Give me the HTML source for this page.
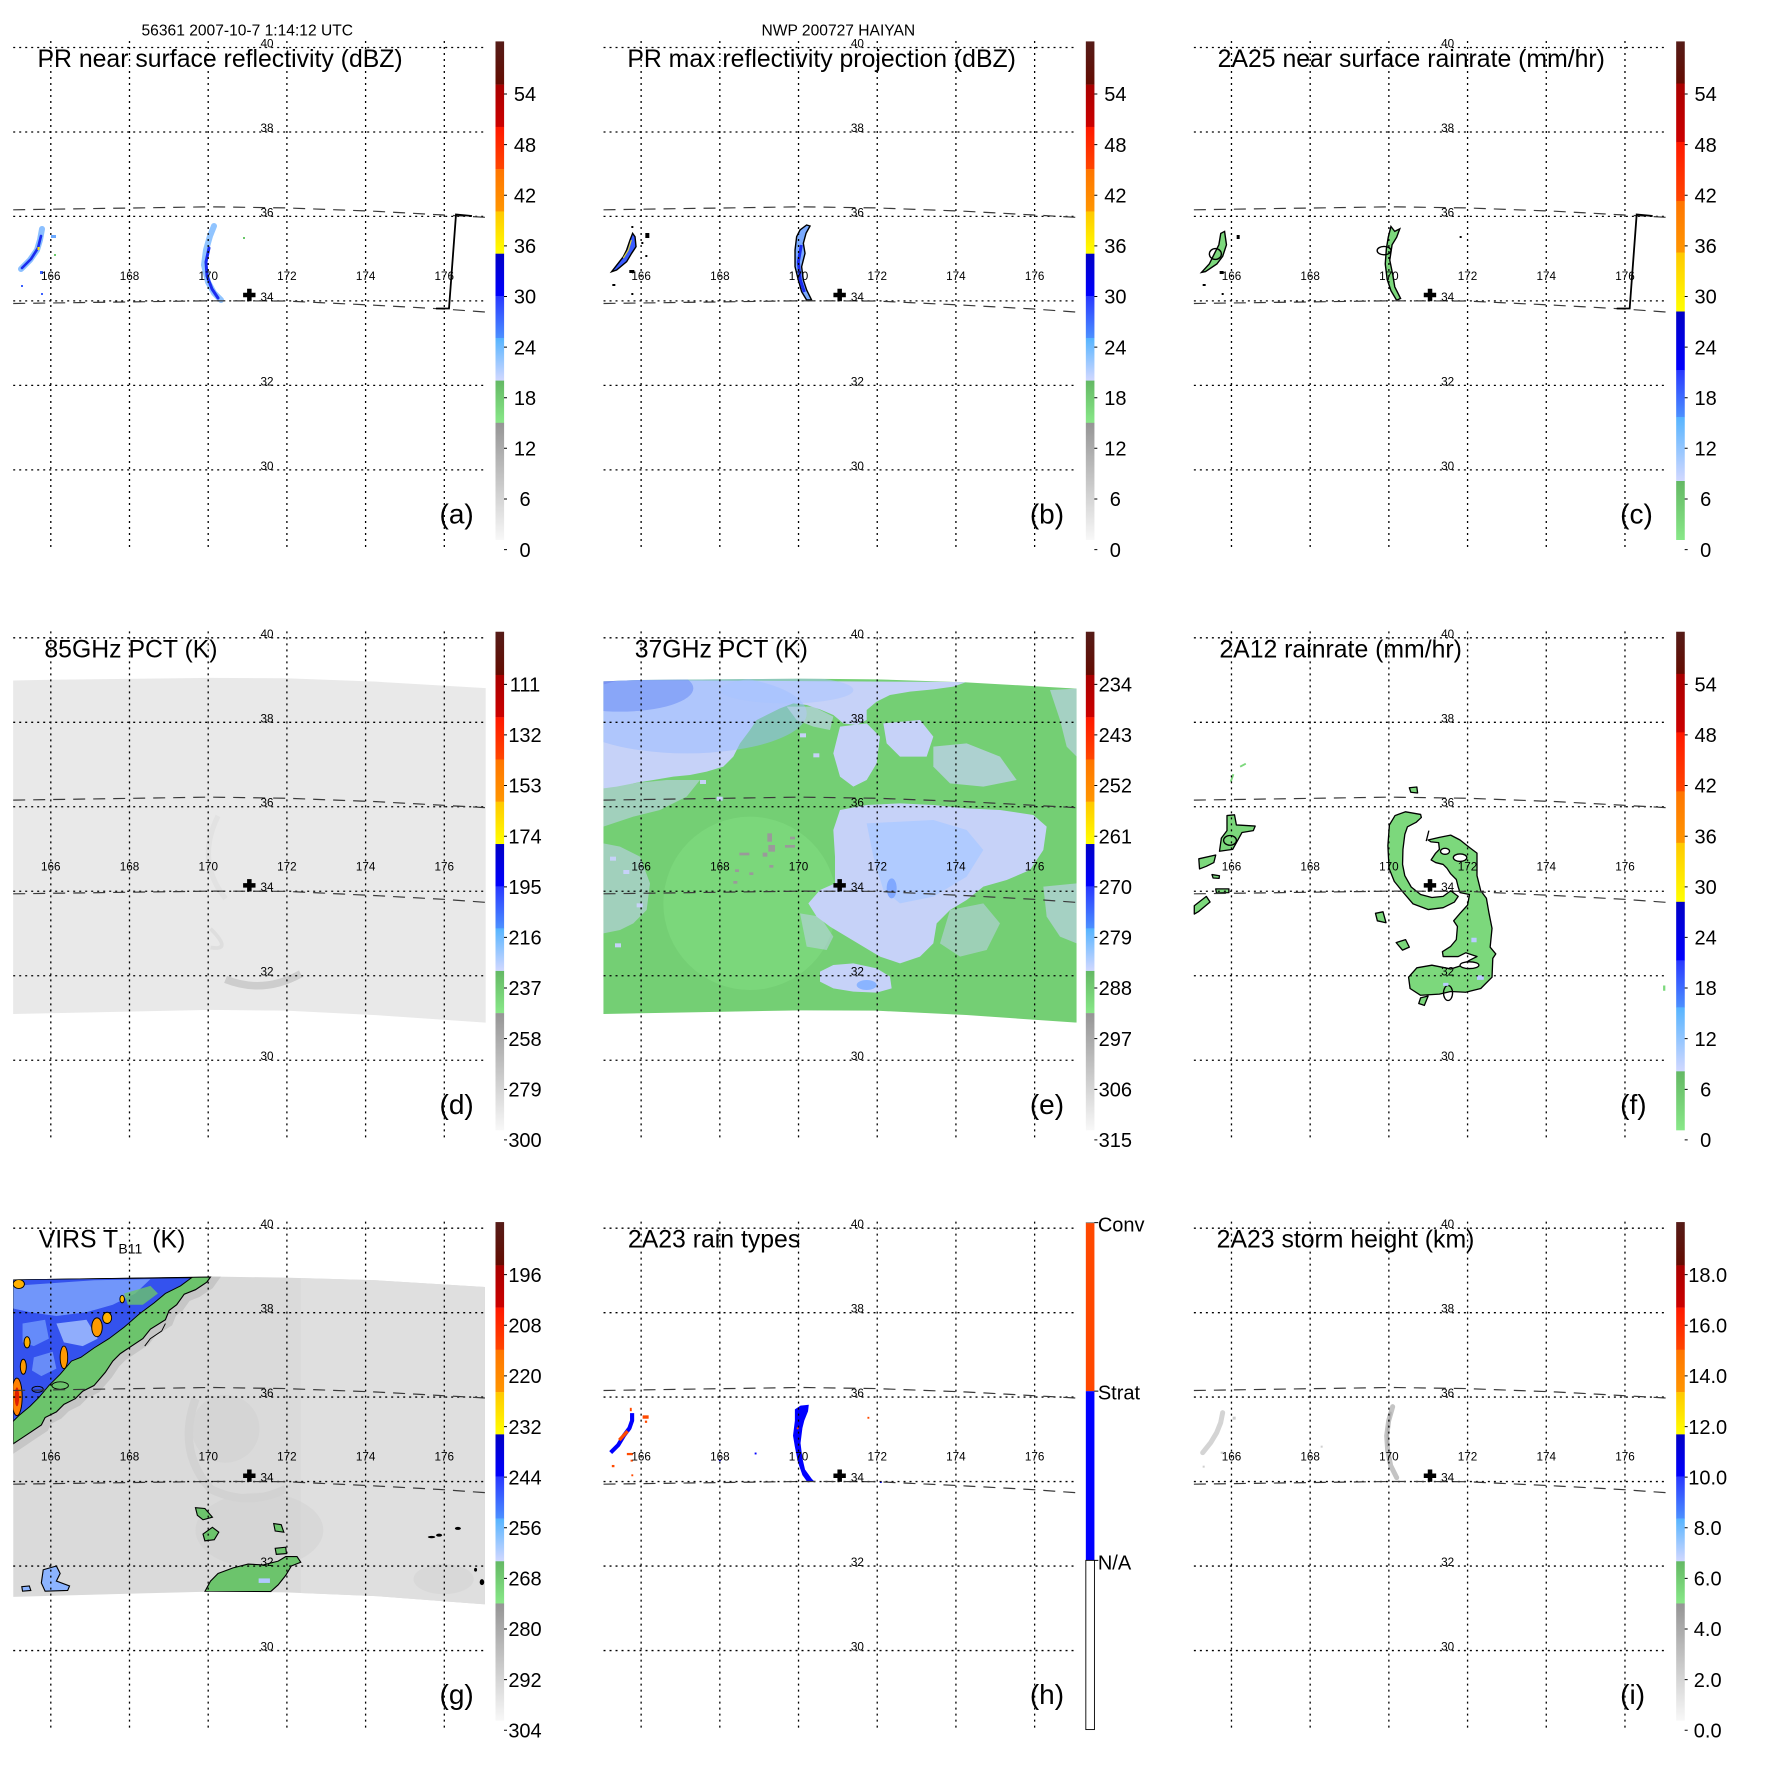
<!DOCTYPE html>
<html><head><meta charset="utf-8"><style>html,body{margin:0;padding:0;background:#fff}svg{display:block}</style></head>
<body>
<svg xmlns="http://www.w3.org/2000/svg" xmlns:xlink="http://www.w3.org/1999/xlink" width="1771" height="1771" viewBox="0 0 1771 1771" font-family="'Liberation Sans', Arial, sans-serif">
<defs>
<linearGradient id="gBrown" x1="0" y1="0" x2="0" y2="1"><stop offset="0" stop-color="#551c18"/><stop offset="1" stop-color="#640c02"/></linearGradient>
<linearGradient id="gDR" x1="0" y1="0" x2="0" y2="1"><stop offset="0" stop-color="#a80000"/><stop offset="1" stop-color="#cc0000"/></linearGradient>
<linearGradient id="gR" x1="0" y1="0" x2="0" y2="1"><stop offset="0" stop-color="#ff1800"/><stop offset="1" stop-color="#ff4600"/></linearGradient>
<linearGradient id="gO" x1="0" y1="0" x2="0" y2="1"><stop offset="0" stop-color="#ff7400"/><stop offset="1" stop-color="#ff9600"/></linearGradient>
<linearGradient id="gY" x1="0" y1="0" x2="0" y2="1"><stop offset="0" stop-color="#ffc800"/><stop offset="1" stop-color="#ffff00"/></linearGradient>
<linearGradient id="gB" x1="0" y1="0" x2="0" y2="1"><stop offset="0" stop-color="#0000c4"/><stop offset="1" stop-color="#0000ff"/></linearGradient>
<linearGradient id="gMB" x1="0" y1="0" x2="0" y2="1"><stop offset="0" stop-color="#2838ff"/><stop offset="1" stop-color="#4c90ff"/></linearGradient>
<linearGradient id="gLB" x1="0" y1="0" x2="0" y2="1"><stop offset="0" stop-color="#56b4ff"/><stop offset="1" stop-color="#d2d8ff"/></linearGradient>
<linearGradient id="gG" x1="0" y1="0" x2="0" y2="1"><stop offset="0" stop-color="#64b864"/><stop offset="1" stop-color="#88e888"/></linearGradient>
<linearGradient id="gGr" x1="0" y1="0" x2="0" y2="1"><stop offset="0" stop-color="#959595"/><stop offset="1" stop-color="#f8f8f8"/></linearGradient>

<g id="grid" fill="none">
 <g stroke="#000" stroke-width="1.3" stroke-dasharray="2 4">
  <path d="M13.2 47.5H486M13.2 132H486M13.2 216.4H486M13.2 300.9H486M13.2 385.4H486M13.2 469.9H486"/>
  <path d="M50.8 41V548.5M129.5 41V548.5M208.2 41V548.5M286.9 41V548.5M365.6 41V548.5M444.3 41V548.5"/>
 </g>
 <g stroke="#3a3a3a" stroke-width="1.2" stroke-dasharray="12 8">
  <polyline points="13.2,209.8 210.5,206.8 285.7,207.9 376,211.3 443.6,215 485,217.3"/>
  <polyline points="13.2,303.5 210.5,300.8 285.7,301 376,305.3 443.6,309 485,312"/>
 </g>
</g>

<g id="cbStd">
 <rect x="495.5" y="41.4" width="8.6" height="43.4" fill="url(#gBrown)"/>
 <rect x="495.5" y="84.6" width="8.6" height="42.5" fill="url(#gDR)"/>
 <rect x="495.5" y="126.9" width="8.6" height="42.4" fill="url(#gR)"/>
 <rect x="495.5" y="169.1" width="8.6" height="42.5" fill="url(#gO)"/>
 <rect x="495.5" y="211.4" width="8.6" height="42.5" fill="url(#gY)"/>
 <rect x="495.5" y="253.7" width="8.6" height="42.5" fill="url(#gB)"/>
 <rect x="495.5" y="296" width="8.6" height="42.2" fill="url(#gMB)"/>
 <rect x="495.5" y="338" width="8.6" height="42.8" fill="url(#gLB)"/>
 <rect x="495.5" y="380.6" width="8.6" height="42.4" fill="url(#gG)"/>
 <rect x="495.5" y="422.8" width="8.6" height="117.2" fill="url(#gGr)"/>
 <path d="M504 94h3M504 144.6h3M504 195.2h3M504 245.9h3M504 296.5h3M504 347.1h3M504 397.7h3M504 448.3h3M504 499h3M504 549.6h3" stroke="#000" stroke-width="1"/>
</g>
<g id="cbRain">
 <rect x="495.5" y="41.4" width="8.6" height="42.3" fill="url(#gBrown)"/>
 <rect x="495.5" y="83.5" width="8.6" height="58.7" fill="url(#gDR)"/>
 <rect x="495.5" y="142" width="8.6" height="59.2" fill="url(#gR)"/>
 <rect x="495.5" y="201" width="8.6" height="51.7" fill="url(#gO)"/>
 <rect x="495.5" y="252.5" width="8.6" height="59.2" fill="url(#gY)"/>
 <rect x="495.5" y="311.5" width="8.6" height="58.7" fill="url(#gB)"/>
 <rect x="495.5" y="370" width="8.6" height="47.2" fill="url(#gMB)"/>
 <rect x="495.5" y="417" width="8.6" height="64.2" fill="url(#gLB)"/>
 <rect x="495.5" y="481" width="8.6" height="59" fill="url(#gG)"/>
 <path d="M504 94h3M504 144.6h3M504 195.2h3M504 245.9h3M504 296.5h3M504 347.1h3M504 397.7h3M504 448.3h3M504 499h3M504 549.6h3" stroke="#000" stroke-width="1"/>
</g>
<path id="cross" d="M243.1 292.8h12.4v4.5h-12.4zM247.1 288.8h4.5v12.4h-4.5z" fill="#000"/>

<clipPath id="clipE"><polygon points="10,34 120,30 602,26 830,28 1099,37 1430,56 1430,1058 1099,1035 828,1022 602,1021 10,1032"/></clipPath>
<clipPath id="clipG"><polygon points="35,263 560,255 760,258 1000,265 1290,283 1290,1127 1000,1105 760,1095 560,1093 35,1107"/></clipPath>
</defs>

<rect width="1771" height="1771" fill="#fff"/>

<text x="141.5" y="35.3" font-size="15.6">56361 2007-10-7 1:14:12 UTC</text>
<text x="761.5" y="35.3" font-size="15.6">NWP 200727 HAIYAN</text>

<!-- ================= PANEL A ================= -->
<g transform="translate(0,0)">
 <g fill="none" stroke-linecap="round" stroke-linejoin="round">
  <polyline points="42,229 40,240 37,250 30,260 21,269" stroke="#8cc0ff" stroke-width="6"/>
  <polyline points="41,236 38,248 31,259 22,268" stroke="#1a2cf0" stroke-width="2.6"/>
  <polyline points="214,226 210,236 206,250 204,265 208,282 214,293 221,300" stroke="#90c4ff" stroke-width="6"/>
  <polyline points="209,248 206,262 207,276 212,289 218,298" stroke="#1a2cf0" stroke-width="3"/>
 </g>
 <rect x="37.5" y="247" width="2" height="3" fill="#ffe000"/>
 <rect x="51" y="235" width="5" height="3" fill="#6aa8ff"/>
 <rect x="40" y="271" width="3" height="3" fill="#3a60ff"/>
 <rect x="21" y="285" width="2" height="2" fill="#3a60ff"/>
 <rect x="41" y="293" width="2" height="2" fill="#3a60ff"/>
 <rect x="54" y="254" width="2" height="2" fill="#6ac86a"/>
 <rect x="243" y="237" width="2" height="2" fill="#6ac86a"/>
 <use xlink:href="#grid"/>
 <polyline points="472,216 456,214.5 449,308.5 436,308.5" fill="none" stroke="#000" stroke-width="1.8"/>
 <use xlink:href="#cbStd"/>
 <use xlink:href="#cross"/>
 <g font-size="11.7" text-anchor="middle">
  <text x="267" y="47.5">40</text><text x="267" y="132">38</text><text x="267" y="216.4">36</text><text x="267" y="300.9">34</text><text x="267" y="385.4">32</text><text x="267" y="469.9">30</text>
  <text x="50.8" y="280">166</text><text x="129.5" y="280">168</text><text x="208.2" y="280">170</text><text x="286.9" y="280">172</text><text x="365.6" y="280">174</text><text x="444.3" y="280">176</text>
 </g>
 <g font-size="20" text-anchor="middle">
  <text x="525" y="101.2">54</text><text x="525" y="151.8">48</text><text x="525" y="202.4">42</text><text x="525" y="253.1">36</text><text x="525" y="303.7">30</text><text x="525" y="354.3">24</text><text x="525" y="404.9">18</text><text x="525" y="455.5">12</text><text x="525" y="506.2">6</text><text x="525" y="556.8">0</text>
 </g>
 <text x="37.5" y="67" font-size="24.8">PR near surface reflectivity (dBZ)</text>
 <text x="439.5" y="523.5" font-size="28">(a)</text>
</g>

<!-- ================= PANEL B ================= -->
<g transform="translate(590.33,0)">
 <polygon points="21.3,271.7 33,256.7 36.3,250 39.7,240 42.3,233.3 44.7,236.7 45.7,246.7 41.3,253.3 36.3,261.7 26.3,270" fill="#3a5cff" stroke="#000" stroke-width="1.4"/>
 <polyline points="41,240 38,250 33,258" fill="none" stroke="#d8d040" stroke-width="1.2"/>
 <polygon points="216.3,225 219.7,226 215.7,233.3 213,243.3 214.7,253.3 211.3,266.7 213,280 216.3,290 221.3,300 216.3,300 211.3,291.7 208,280 204.7,266.7 204.7,250 206.3,236.7 209.7,230" fill="#7aaaff" stroke="#000" stroke-width="1.4"/>
 <polyline points="211,245 208,262 210,280 214,292" fill="none" stroke="#1a2cf0" stroke-width="3"/>
 <g fill="#000">
  <rect x="55" y="233" width="4" height="5"/><rect x="39" y="270" width="5" height="3"/><rect x="22" y="284" width="3" height="2"/><rect x="41" y="293" width="2" height="2"/><rect x="51" y="242" width="2" height="2"/><rect x="55" y="255" width="2" height="2"/><rect x="41" y="226" width="2" height="2"/>
 </g>
 <use xlink:href="#grid"/>
 <use xlink:href="#cbStd"/>
 <use xlink:href="#cross"/>
 <g font-size="11.7" text-anchor="middle">
  <text x="267" y="47.5">40</text><text x="267" y="132">38</text><text x="267" y="216.4">36</text><text x="267" y="300.9">34</text><text x="267" y="385.4">32</text><text x="267" y="469.9">30</text>
  <text x="50.8" y="280">166</text><text x="129.5" y="280">168</text><text x="208.2" y="280">170</text><text x="286.9" y="280">172</text><text x="365.6" y="280">174</text><text x="444.3" y="280">176</text>
 </g>
 <g font-size="20" text-anchor="middle">
  <text x="525" y="101.2">54</text><text x="525" y="151.8">48</text><text x="525" y="202.4">42</text><text x="525" y="253.1">36</text><text x="525" y="303.7">30</text><text x="525" y="354.3">24</text><text x="525" y="404.9">18</text><text x="525" y="455.5">12</text><text x="525" y="506.2">6</text><text x="525" y="556.8">0</text>
 </g>
 <text x="37" y="67" font-size="24.8">PR max reflectivity projection (dBZ)</text>
 <text x="439.5" y="523.5" font-size="28">(b)</text>
</g>

<!-- ================= PANEL C ================= -->
<g transform="translate(1180.67,0)">
 <polygon points="20.9,272.4 28.6,264 32.4,256.3 38.2,244.8 40.1,233.4 43.9,231.4 45.8,244.8 42,256.3 36.2,264 24.8,271.6" fill="#7cd87c" stroke="#000" stroke-width="1.4"/>
 <ellipse cx="34.7" cy="254" rx="6" ry="5.4" fill="none" stroke="#000" stroke-width="1.4"/>
 <polygon points="210.3,226.5 214.1,231.4 219.1,228.8 216,237.2 211.4,244.8 209.1,260.1 212.2,275.4 214.1,286.9 219.9,298.4 216,300.3 210.3,290.7 206.5,279.3 204.6,264 205.7,248.7 207.6,237.2" fill="#7cd87c" stroke="#000" stroke-width="1.4"/>
 <ellipse cx="203.4" cy="250.6" rx="6.9" ry="4.2" fill="none" stroke="#000" stroke-width="1.4"/>
 <g fill="#000">
  <rect x="56" y="235" width="3" height="4"/><rect x="22" y="284" width="3" height="2"/><rect x="41" y="293" width="2" height="2"/><rect x="39" y="271" width="4" height="3"/><rect x="279" y="236" width="2" height="2"/>
 </g>
 <use xlink:href="#grid"/>
 <polyline points="472,216 456,214.5 449,308.5 436,308.5" fill="none" stroke="#000" stroke-width="1.8"/>
 <use xlink:href="#cbRain"/>
 <use xlink:href="#cross"/>
 <g font-size="11.7" text-anchor="middle">
  <text x="267" y="47.5">40</text><text x="267" y="132">38</text><text x="267" y="216.4">36</text><text x="267" y="300.9">34</text><text x="267" y="385.4">32</text><text x="267" y="469.9">30</text>
  <text x="50.8" y="280">166</text><text x="129.5" y="280">168</text><text x="208.2" y="280">170</text><text x="286.9" y="280">172</text><text x="365.6" y="280">174</text><text x="444.3" y="280">176</text>
 </g>
 <g font-size="20" text-anchor="middle">
  <text x="525" y="101.2">54</text><text x="525" y="151.8">48</text><text x="525" y="202.4">42</text><text x="525" y="253.1">36</text><text x="525" y="303.7">30</text><text x="525" y="354.3">24</text><text x="525" y="404.9">18</text><text x="525" y="455.5">12</text><text x="525" y="506.2">6</text><text x="525" y="556.8">0</text>
 </g>
 <text x="37" y="67" font-size="24.8">2A25 near surface rainrate (mm/hr)</text>
 <text x="439.5" y="523.5" font-size="28">(c)</text>
</g>

<!-- ================= PANEL D data ================= -->
<g transform="translate(0,590.33) scale(0.37594)">
 <polygon points="35,240 135,238 560,233 760,234 1000,243 1292,260 1292,1150 1000,1130 760,1118 560,1116 35,1127" fill="#e9e9e9"/>
 <path d="M600 1035 Q700 1075 800 1020" fill="none" stroke="#cdcdcd" stroke-width="20"/>
 <path d="M580 600 Q520 720 600 820" fill="none" stroke="#e2e2e2" stroke-width="14"/>
 <path d="M560 900 Q620 960 560 950" fill="none" stroke="#dedede" stroke-width="10"/>
</g>
<!-- ================= PANEL D ================= -->
<g transform="translate(0,590.33)">
 <use xlink:href="#grid"/>
 <use xlink:href="#cbStd"/>
 <use xlink:href="#cross"/>
 <g font-size="11.7" text-anchor="middle">
  <text x="267" y="47.5">40</text><text x="267" y="132">38</text><text x="267" y="216.4">36</text><text x="267" y="300.9">34</text><text x="267" y="385.4">32</text><text x="267" y="469.9">30</text>
  <text x="50.8" y="280">166</text><text x="129.5" y="280">168</text><text x="208.2" y="280">170</text><text x="286.9" y="280">172</text><text x="365.6" y="280">174</text><text x="444.3" y="280">176</text>
 </g>
 <g font-size="20" text-anchor="middle">
  <text x="525" y="101.2">111</text><text x="525" y="151.8">132</text><text x="525" y="202.4">153</text><text x="525" y="253.1">174</text><text x="525" y="303.7">195</text><text x="525" y="354.3">216</text><text x="525" y="404.9">237</text><text x="525" y="455.5">258</text><text x="525" y="506.2">279</text><text x="525" y="556.8">300</text>
 </g>
 <text x="44.4" y="67" font-size="24.8">85GHz PCT (K)</text>
 <text x="439.5" y="523.5" font-size="28">(d)</text>
</g>

<!-- ================= PANEL E data ================= -->
<g transform="translate(600,670) scale(0.333333)">
 <g clip-path="url(#clipE)">
  <rect x="0" y="0" width="1440" height="1070" fill="#74cf74"/>
  <ellipse cx="450" cy="700" rx="260" ry="260" fill="#80dc80" opacity="0.6"/>
  <polygon points="10,30 1100,36 1060,50 1000,58 930,65 870,75 830,95 800,120 800,150 770,165 730,160 700,135 660,118 620,105 580,100 540,115 500,135 470,150 450,180 420,220 400,260 370,290 320,305 270,315 220,320 160,330 100,340 50,350 10,355" fill="#c6d2f8"/>
  <polygon points="10,350 100,340 200,330 300,330 260,380 180,420 100,440 10,470" fill="#c6d2f8" opacity="0.55"/>
  <ellipse cx="60" cy="55" rx="220" ry="70" fill="#4a68ec" opacity="0.6"/>
  <ellipse cx="260" cy="130" rx="360" ry="120" fill="#98baff" opacity="0.5"/>
  <ellipse cx="560" cy="60" rx="200" ry="40" fill="#a8c4ff" opacity="0.5"/>
  <polygon points="720,170 800,160 840,200 830,280 800,330 760,350 720,320 700,250" fill="#c6d2f8"/>
  <polygon points="560,110 640,110 700,140 690,180 640,170 590,150" fill="#c6d2f8" opacity="0.6"/>
  <polygon points="850,160 960,150 1000,200 980,260 900,260 860,220" fill="#c6d2f8"/>
  <polygon points="1000,230 1100,220 1200,260 1250,330 1150,350 1050,340 1000,290" fill="#c6d2f8" opacity="0.7"/>
  <polygon points="1350,60 1430,56 1430,260 1400,230 1380,150" fill="#c6d2f8" opacity="0.6"/>
  <polygon points="720,420 800,405 900,400 1000,405 1100,415 1200,420 1300,435 1340,470 1330,540 1290,600 1220,630 1150,650 1100,690 1050,720 1010,760 1000,820 960,860 900,880 840,860 790,830 740,800 690,770 650,740 625,700 660,660 705,640 705,560 700,480" fill="#c6d2f8"/>
  <polygon points="800,460 1000,450 1100,480 1150,540 1100,620 1000,680 900,700 850,660 820,560" fill="#b0cbff"/>
  <ellipse cx="875" cy="655" rx="15" ry="30" fill="#80a8ff"/>
  <polygon points="1330,650 1430,640 1430,820 1380,800 1340,740" fill="#c6d2f8" opacity="0.6"/>
  <polygon points="10,520 60,530 120,560 150,640 140,720 100,760 60,780 10,790" fill="#c6d2f8" opacity="0.55"/>
  <polygon points="600,730 660,740 700,800 680,840 620,830" fill="#c6d2f8" opacity="0.5"/>
  <polygon points="1050,720 1150,700 1200,760 1160,840 1080,860 1020,820" fill="#c6d2f8" opacity="0.5"/>
  <polygon points="660,905 700,885 760,880 830,895 870,920 875,955 830,968 760,965 700,955 660,935" fill="#c6d2f8"/>
  <ellipse cx="800" cy="945" rx="30" ry="15" fill="#8ab4ff"/>
  <g fill="#c6d2f8">
   <rect x="30" y="560" width="18" height="12"/><rect x="70" y="600" width="18" height="12"/><rect x="110" y="700" width="18" height="12"/><rect x="45" y="820" width="18" height="12"/>
   <rect x="300" y="330" width="18" height="12"/><rect x="350" y="380" width="18" height="12"/><rect x="600" y="190" width="18" height="12"/><rect x="640" y="250" width="18" height="12"/>
  </g>
  <g fill="#9a9a9a">
   <rect x="418" y="548" width="30" height="8"/><rect x="502" y="490" width="14" height="25"/><rect x="505" y="525" width="20" height="20"/><rect x="555" y="525" width="30" height="8"/><rect x="405" y="598" width="12" height="8"/><rect x="448" y="607" width="12" height="8"/><rect x="508" y="585" width="12" height="8"/><rect x="400" y="633" width="12" height="8"/><rect x="570" y="500" width="15" height="8"/><rect x="488" y="548" width="14" height="12"/>
  </g>
 </g>
</g>
<!-- ================= PANEL E ================= -->
<g transform="translate(590.33,590.33)">
 <use xlink:href="#grid"/>
 <use xlink:href="#cbStd"/>
 <use xlink:href="#cross"/>
 <g font-size="11.7" text-anchor="middle">
  <text x="267" y="47.5">40</text><text x="267" y="132">38</text><text x="267" y="216.4">36</text><text x="267" y="300.9">34</text><text x="267" y="385.4">32</text><text x="267" y="469.9">30</text>
  <text x="50.8" y="280">166</text><text x="129.5" y="280">168</text><text x="208.2" y="280">170</text><text x="286.9" y="280">172</text><text x="365.6" y="280">174</text><text x="444.3" y="280">176</text>
 </g>
 <g font-size="20" text-anchor="middle">
  <text x="525" y="101.2">234</text><text x="525" y="151.8">243</text><text x="525" y="202.4">252</text><text x="525" y="253.1">261</text><text x="525" y="303.7">270</text><text x="525" y="354.3">279</text><text x="525" y="404.9">288</text><text x="525" y="455.5">297</text><text x="525" y="506.2">306</text><text x="525" y="556.8">315</text>
 </g>
 <text x="44.4" y="67" font-size="24.8">37GHz PCT (K)</text>
 <text x="439.5" y="523.5" font-size="28">(e)</text>
</g>

<!-- ================= PANEL F data ================= -->
<g transform="translate(1180,590) scale(0.37594)" stroke="#000" stroke-width="3.5" stroke-linejoin="round">
 <polygon points="640,597 600,590 572,600 557,625 553,680 556,740 570,775 590,800 620,835 660,850 700,845 730,830 740,815 720,800 700,815 670,818 640,810 615,790 598,760 592,730 593,690 598,650 605,630 628,618 642,605" fill="#7cd87c"/>
 <polygon points="660,665 690,658 720,652 745,665 770,685 790,700 790,760 800,800 815,820 822,860 830,900 825,950 840,968 832,980 830,1030 800,1060 760,1070 720,1068 690,1075 640,1078 612,1060 608,1030 630,1005 670,998 720,1008 745,1000 770,985 790,975 760,965 740,975 700,975 698,962 720,948 735,930 738,895 728,880 745,860 765,838 770,810 745,805 740,790 735,770 720,755 710,740 700,730 680,725 668,718 680,700 690,690 688,672 668,670" fill="#7cd87c"/>
 <ellipse cx="705" cy="695" rx="12" ry="8" fill="#fff"/>
 <ellipse cx="745" cy="712" rx="18" ry="10" fill="#fff"/>
 <ellipse cx="770" cy="998" rx="25" ry="9" fill="#fff"/>
 <ellipse cx="713" cy="1072" rx="12" ry="20" fill="none"/>
 <polygon points="640,1085 660,1080 650,1105 635,1100" fill="#7cd87c"/>
 <polyline points="655,668 662,640" fill="none"/>
 <polygon points="610,526 630,524 632,540 614,538" fill="#7cd87c"/>
 <polygon points="125,600 145,598 150,625 200,628 195,640 165,645 140,690 105,695 110,660 125,640" fill="#7cd87c"/>
 <ellipse cx="133" cy="666" rx="17" ry="13" fill="none"/>
 <polygon points="50,715 95,705 90,725 70,735 52,742" fill="#7cd87c"/>
 <polygon points="85,757 105,760 104,767 88,766" fill="#7cd87c"/>
 <polygon points="95,795 130,795 130,805 97,806" fill="#7cd87c"/>
 <polygon points="38,840 70,815 80,830 50,855 38,862" fill="#7cd87c"/>
 <polygon points="520,860 540,856 548,885 525,880" fill="#7cd87c"/>
 <polygon points="575,938 600,930 610,950 592,958" fill="#7cd87c"/>
 <polyline points="135,510 142,490" fill="none" stroke="#7cd87c" stroke-width="5"/>
 <polyline points="160,470 175,462" fill="none" stroke="#7cd87c" stroke-width="5"/>
 <rect x="1285" y="1052" width="6" height="14" fill="#7cd87c" stroke="none"/>
 <g fill="#b8ccff" stroke="none"><rect x="775" y="925" width="14" height="12"/><rect x="790" y="1025" width="18" height="12"/><rect x="700" y="1045" width="14" height="8"/></g>
</g>
<!-- ================= PANEL F ================= -->
<g transform="translate(1180.67,590.33)">
 <use xlink:href="#grid"/>
 <use xlink:href="#cbRain"/>
 <use xlink:href="#cross"/>
 <g font-size="11.7" text-anchor="middle">
  <text x="267" y="47.5">40</text><text x="267" y="132">38</text><text x="267" y="216.4">36</text><text x="267" y="300.9">34</text><text x="267" y="385.4">32</text><text x="267" y="469.9">30</text>
  <text x="50.8" y="280">166</text><text x="129.5" y="280">168</text><text x="208.2" y="280">170</text><text x="286.9" y="280">172</text><text x="365.6" y="280">174</text><text x="444.3" y="280">176</text>
 </g>
 <g font-size="20" text-anchor="middle">
  <text x="525" y="101.2">54</text><text x="525" y="151.8">48</text><text x="525" y="202.4">42</text><text x="525" y="253.1">36</text><text x="525" y="303.7">30</text><text x="525" y="354.3">24</text><text x="525" y="404.9">18</text><text x="525" y="455.5">12</text><text x="525" y="506.2">6</text><text x="525" y="556.8">0</text>
 </g>
 <text x="38.7" y="67" font-size="24.8">2A12 rainrate (mm/hr)</text>
 <text x="439.5" y="523.5" font-size="28">(f)</text>
</g>

<!-- ================= PANEL G data ================= -->
<g transform="translate(0,1180.67) scale(0.37594)">
 <g clip-path="url(#clipG)">
  <rect x="0" y="200" width="1300" height="950" fill="#dadada"/>
  <rect x="800" y="250" width="500" height="900" fill="#dfdfdf"/>
  <ellipse cx="600" cy="660" rx="90" ry="90" fill="#d0d0d0" opacity="0.5"/>
  <ellipse cx="690" cy="930" rx="170" ry="100" fill="#cccccc" opacity="0.4"/>
  <path d="M520 580 Q470 720 560 820 Q660 870 760 820" fill="none" stroke="#d2d2d2" stroke-width="22"/>
  <ellipse cx="1180" cy="1060" rx="80" ry="40" fill="#d2d2d2" opacity="0.5"/>
  <polygon points="35,263 560,256 550,270 520,290 490,302 470,330 450,345 440,370 400,395 380,420 350,440 320,460 300,480 280,510 250,545 220,560 200,580 170,595 150,615 120,630 110,650 80,670 50,690 35,700" fill="none" stroke="#c6c6c6" stroke-width="44"/>
  <polygon points="35,263 560,256 550,270 520,290 490,302 470,330 450,345 440,370 400,395 380,420 350,440 320,460 300,480 280,510 250,545 220,560 200,580 170,595 150,615 120,630 110,650 80,670 50,690 35,700" fill="#6cc46c" stroke="#000" stroke-width="3"/>
  <polygon points="35,263 510,258 480,280 440,300 410,325 370,355 330,390 290,420 250,445 215,470 190,480 160,515 130,545 105,575 80,600 50,625 35,640" fill="#3452ee" stroke="#000" stroke-width="2.5"/>
  <polygon points="35,280 250,265 400,262 360,300 300,330 230,350 150,360 80,350 35,340" fill="#8cb4ff" opacity="0.7"/>
  <polygon points="150,380 230,370 260,420 220,440 170,430" fill="#a8c4ff" opacity="0.8"/>
  <polygon points="60,380 120,370 130,420 90,440 60,430" fill="#7aa4ff" opacity="0.7"/>
  <polygon points="90,470 140,455 150,500 110,520 85,505" fill="#8cb4ff" opacity="0.6"/>
  <polygon points="330,300 400,280 420,300 380,330 340,330" fill="#6cc46c" opacity="0.8"/>
  <g stroke="#000" stroke-width="2.5">
   <ellipse cx="258" cy="390" rx="14" ry="25" fill="#ff9a00"/>
   <ellipse cx="285" cy="365" rx="12" ry="15" fill="#ffb000"/>
   <ellipse cx="170" cy="470" rx="10" ry="30" fill="#ff9a00"/>
   <ellipse cx="72" cy="430" rx="8" ry="15" fill="#ffb000"/>
   <ellipse cx="62" cy="495" rx="8" ry="20" fill="#ff9a00"/>
   <ellipse cx="45" cy="575" rx="14" ry="50" fill="#ff8000"/>
   <ellipse cx="50" cy="275" rx="15" ry="12" fill="#ffb000"/>
   <ellipse cx="325" cy="315" rx="6" ry="10" fill="#ffc000"/>
  </g>
  <ellipse cx="45" cy="575" rx="6" ry="25" fill="#e02000"/>
  <g fill="none" stroke="#000" stroke-width="2.5">
   <ellipse cx="100" cy="555" rx="15" ry="8"/>
   <ellipse cx="160" cy="545" rx="22" ry="10"/>
   <polyline points="385,440 400,420 430,400 440,380"/>
  </g>
  <polygon points="545,1093 560,1065 580,1045 620,1030 660,1020 700,1022 740,1012 760,1000 790,1000 800,1015 775,1025 760,1050 740,1075 720,1093" fill="#6cc46c" stroke="#000" stroke-width="3"/>
  <rect x="688" y="1058" width="30" height="12" fill="#b0c8ff"/>
  <polygon points="520,870 545,872 565,895 540,902 525,890" fill="#6cc46c" stroke="#000" stroke-width="3"/>
  <polygon points="540,940 565,922 582,935 570,955 545,958" fill="#6cc46c" stroke="#000" stroke-width="3"/>
  <polygon points="728,912 748,915 755,935 732,932" fill="#6cc46c" stroke="#000" stroke-width="3"/>
  <polygon points="732,978 760,975 762,992 735,994" fill="#6cc46c" stroke="#000" stroke-width="3"/>
  <polygon points="115,1035 150,1025 160,1045 150,1065 185,1078 180,1090 120,1092 110,1070" fill="#8cb4ff" stroke="#000" stroke-width="3"/>
  <polygon points="58,1080 78,1078 82,1090 60,1092" fill="#8cb4ff" stroke="#000" stroke-width="3"/>
  <g fill="#000">
   <ellipse cx="1148" cy="948" rx="10" ry="3"/><ellipse cx="1168" cy="943" rx="8" ry="4"/><ellipse cx="1218" cy="925" rx="8" ry="4"/><ellipse cx="1282" cy="1068" rx="6" ry="8"/><ellipse cx="1265" cy="1035" rx="4" ry="5"/>
  </g>
 </g>
</g>
<!-- ================= PANEL G ================= -->
<g transform="translate(0,1180.67)">
 <use xlink:href="#grid"/>
 <use xlink:href="#cbStd"/>
 <use xlink:href="#cross"/>
 <g font-size="11.7" text-anchor="middle">
  <text x="267" y="47.5">40</text><text x="267" y="132">38</text><text x="267" y="216.4">36</text><text x="267" y="300.9">34</text><text x="267" y="385.4">32</text><text x="267" y="469.9">30</text>
  <text x="50.8" y="280">166</text><text x="129.5" y="280">168</text><text x="208.2" y="280">170</text><text x="286.9" y="280">172</text><text x="365.6" y="280">174</text><text x="444.3" y="280">176</text>
 </g>
 <g font-size="20" text-anchor="middle">
  <text x="525" y="101.2">196</text><text x="525" y="151.8">208</text><text x="525" y="202.4">220</text><text x="525" y="253.1">232</text><text x="525" y="303.7">244</text><text x="525" y="354.3">256</text><text x="525" y="404.9">268</text><text x="525" y="455.5">280</text><text x="525" y="506.2">292</text><text x="525" y="556.8">304</text>
 </g>
 <text x="38.7" y="67" font-size="24.8">VIRS T</text>
 <text x="118.4" y="72.6" font-size="14">B11</text>
 <text x="152.3" y="67" font-size="24.8">(K)</text>
 <text x="439.5" y="523.5" font-size="28">(g)</text>
</g>

<!-- ================= PANEL H data ================= -->
<g transform="translate(590,1180) scale(0.37594)">
 <polyline points="55,725 75,705 90,680 105,660 112,640 112,620" fill="none" stroke="#0000ff" stroke-width="11" stroke-linejoin="round"/>
 <polyline points="78,692 100,668" fill="none" stroke="#ff4a00" stroke-width="9"/>
 <polygon points="545,610 560,600 582,598 580,615 570,640 565,660 560,700 565,740 572,770 590,795 598,803 578,803 565,785 553,750 545,710 540,680 545,640" fill="#0000ff"/>
 <g fill="#ff4a00">
  <rect x="140" y="626" width="16" height="9"/><rect x="146" y="640" width="6" height="6"/><rect x="58" y="758" width="7" height="6"/><rect x="98" y="726" width="16" height="6"/><rect x="108" y="744" width="6" height="5"/><rect x="110" y="783" width="5" height="5"/><rect x="106" y="606" width="5" height="9"/><rect x="738" y="630" width="5" height="5"/><rect x="550" y="658" width="5" height="5"/>
 </g>
 <g fill="#0000ff"><rect x="438" y="725" width="5" height="5"/><rect x="343" y="743" width="5" height="5"/><rect x="771" y="801" width="5" height="5"/></g>
</g>
<!-- ================= PANEL H ================= -->
<g transform="translate(590.33,1180.67)">
 <use xlink:href="#grid"/>
 <rect x="495.5" y="42" width="8.6" height="168.5" fill="#ff4800"/>
 <rect x="495.5" y="210.5" width="8.6" height="169.2" fill="#0000ff"/>
 <rect x="495.5" y="379.7" width="8.6" height="169.2" fill="#fff" stroke="#000" stroke-width="0.9"/>
 <path d="M495.5 42h8.6" stroke="#888" stroke-width="1"/>
 <path d="M504 42h4M504 210.5h4M504 379.7h4" stroke="#000" stroke-width="1"/>
 <use xlink:href="#cross"/>
 <g font-size="11.7" text-anchor="middle">
  <text x="267" y="47.5">40</text><text x="267" y="132">38</text><text x="267" y="216.4">36</text><text x="267" y="300.9">34</text><text x="267" y="385.4">32</text><text x="267" y="469.9">30</text>
  <text x="50.8" y="280">166</text><text x="129.5" y="280">168</text><text x="208.2" y="280">170</text><text x="286.9" y="280">172</text><text x="365.6" y="280">174</text><text x="444.3" y="280">176</text>
 </g>
 <g font-size="20">
  <text x="507.5" y="50.8">Conv</text><text x="507.5" y="219">Strat</text><text x="507.5" y="389">N/A</text>
 </g>
 <text x="37.6" y="67" font-size="24.8">2A23 rain types</text>
 <text x="439.5" y="523.5" font-size="28">(h)</text>
</g>

<!-- ================= PANEL I ================= -->
<g transform="translate(1180.67,1180.67)">
 <g fill="none" stroke-linecap="round" stroke-linejoin="round">
  <polyline points="22,272 30,262 36,252 40,242 42,232" stroke="#d4d4d4" stroke-width="5"/>
  <polyline points="212,226 208,240 206,255 207,270 210,285 216,297" stroke="#c4c4c4" stroke-width="5"/>
  <polyline points="210,232 207,248 207,265" stroke="#b0b0b0" stroke-width="2"/>
 </g>
 <g fill="#cfcfcf"><rect x="40" y="271" width="3" height="2"/><rect x="52" y="236" width="3" height="3"/><rect x="22" y="285" width="2" height="2"/><rect x="140" y="265" width="2" height="2"/></g>
 <use xlink:href="#grid"/>
 <use xlink:href="#cbStd"/>
 <use xlink:href="#cross"/>
 <g font-size="11.7" text-anchor="middle">
  <text x="267" y="47.5">40</text><text x="267" y="132">38</text><text x="267" y="216.4">36</text><text x="267" y="300.9">34</text><text x="267" y="385.4">32</text><text x="267" y="469.9">30</text>
  <text x="50.8" y="280">166</text><text x="129.5" y="280">168</text><text x="208.2" y="280">170</text><text x="286.9" y="280">172</text><text x="365.6" y="280">174</text><text x="444.3" y="280">176</text>
 </g>
 <g font-size="20" text-anchor="middle">
  <text x="527" y="101.2">18.0</text><text x="527" y="151.8">16.0</text><text x="527" y="202.4">14.0</text><text x="527" y="253.1">12.0</text><text x="527" y="303.7">10.0</text><text x="527" y="354.3">8.0</text><text x="527" y="404.9">6.0</text><text x="527" y="455.5">4.0</text><text x="527" y="506.2">2.0</text><text x="527" y="556.8">0.0</text>
 </g>
 <text x="36" y="67" font-size="24.8">2A23 storm height (km)</text>
 <text x="439.5" y="523.5" font-size="28">(i)</text>
</g>
</svg>
</body></html>
